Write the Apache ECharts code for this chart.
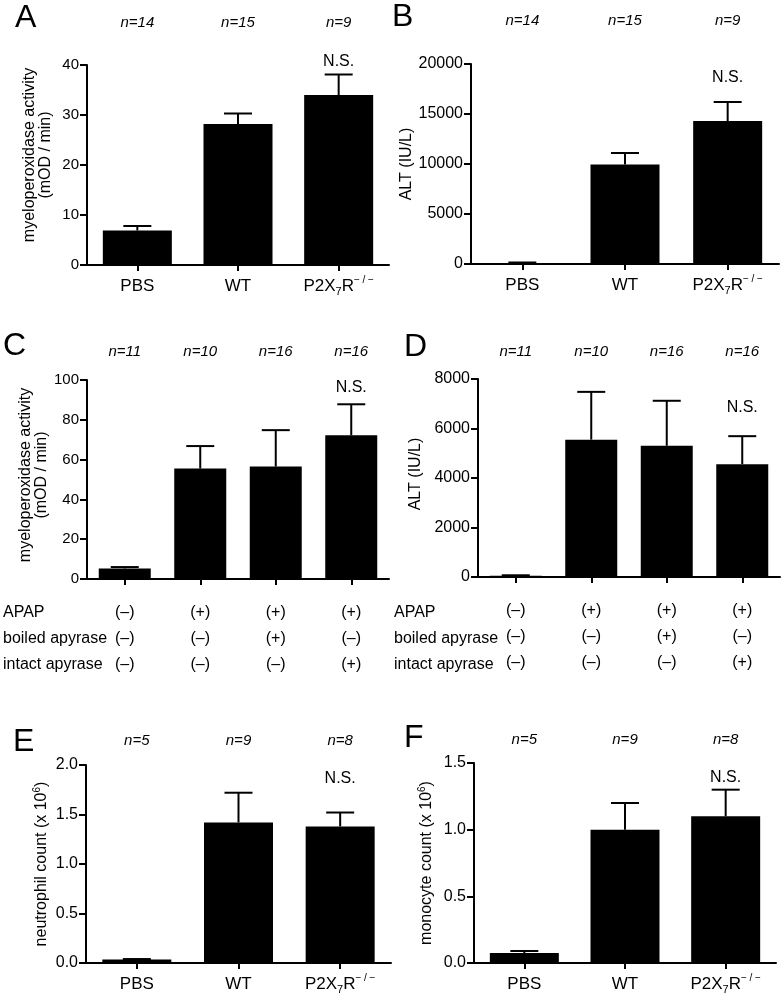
<!DOCTYPE html>
<html><head><meta charset="utf-8">
<script src="https://cdn.jsdelivr.net/npm/echarts@6/dist/echarts.min.js"></script>
<style>html,body{margin:0;padding:0;background:#fff}#c{width:782px;height:997px}</style>
</head><body><div id="c"></div>
<script>
// ---------------- DATA ----------------
const groupCats = ['PBS', 'WT', 'P2X7R-/-'];
const treatCats = ['g1', 'g2', 'g3', 'g4'];

const aValues = [6.9, 28.2, 34.0];
const aErrTop = [7.8, 30.3, 38.1];
const aN = ['n=14', 'n=15', 'n=9'];
const aNS = [2, 40.6];

const bValues = [100, 9950, 14300];
const bErrTop = [150, 11100, 16200];
const bN = ['n=14', 'n=15', 'n=9'];
const bNS = [2, 18600];

const cValues = [5.3, 55.5, 56.5, 72.2];
const cErrTop = [6.0, 66.8, 74.8, 87.8];
const cN = ['n=11', 'n=10', 'n=16', 'n=16'];
const cNS = [3, 96.3];

const dValues = [50, 5550, 5300, 4560];
const dErrTop = [70, 7480, 7120, 5690];
const dN = ['n=11', 'n=10', 'n=16', 'n=16'];
const dNS = [3, 6830];

const eValues = [0.035, 1.42, 1.38];
const eErrTop = [0.04, 1.72, 1.52];
const eN = ['n=5', 'n=9', 'n=8'];
const eNS = [2, 1.86];

const fValues = [0.075, 1.0, 1.1];
const fErrTop = [0.09, 1.2, 1.3];
const fN = ['n=5', 'n=9', 'n=8'];
const fNS = [2, 1.39];

const rowNames = ['APAP', 'boiled apyrase', 'intact apyrase'];
const apapRow = ['(–)', '(+)', '(+)', '(+)'];
const boiledRow = ['(–)', '(–)', '(+)', '(–)'];
const intactRow = ['(–)', '(–)', '(–)', '(+)'];

const aTicks = {max: 40, interval: 10};
const bTicks = {max: 20000, interval: 5000};
const cTicks = {max: 100, interval: 20};
const dTicks = {max: 8000, interval: 2000};
const eTicks = {max: 2.0, interval: 0.5};
const fTicks = {max: 1.5, interval: 0.5};

const nsText = 'N.S.';
const panelLetters = ['A', 'B', 'C', 'D', 'E', 'F'];

// ---------------- LAYOUT / STYLE ----------------
const FONT = '"Liberation Sans", Arial, Helvetica, sans-serif';
const panels = [
  {cats: groupCats, vals: aValues, err: aErrTop, n: aN, ns: aNS, ticks: aTicks, dec: 0, tickFs: 15,
   grid: {left: 87, top: 65, width: 302, height: 200}, barW: 69, nMargin: 35,
   name: 'myeloperoxidase activity\n(mOD / min)', nameGap: 33, namePad: 20, table: false},
  {cats: groupCats, vals: bValues, err: bErrTop, n: bN, ns: bNS, ticks: bTicks, dec: 0, tickFs: 16,
   grid: {left: 471, top: 64, width: 308, height: 200}, barW: 69, nMargin: 36,
   name: 'ALT (IU/L)', nameGap: 55, namePad: 0, table: false},
  {cats: treatCats, vals: cValues, err: cErrTop, n: cN, ns: cNS, ticks: cTicks, dec: 0, tickFs: 15,
   grid: {left: 87, top: 380, width: 302, height: 199}, barW: 52, nMargin: 21,
   name: 'myeloperoxidase activity\n(mOD / min)', nameGap: 33, namePad: 9, table: true, rowX: 3},
  {cats: treatCats, vals: dValues, err: dErrTop, n: dN, ns: dNS, ticks: dTicks, dec: 0, tickFs: 16,
   grid: {left: 478, top: 379, width: 302, height: 198}, barW: 52, nMargin: 20,
   name: 'ALT (IU/L)', nameGap: 54, namePad: 8, table: true, rowX: 394},
  {cats: groupCats, vals: eValues, err: eErrTop, n: eN, ns: eNS, ticks: eTicks, dec: 1, tickFs: 16,
   grid: {left: 86, top: 765, width: 305, height: 198}, barW: 69, nMargin: 17,
   name: '{t|neutrophil count (x 10}{s|6}{t|)}', nameGap: 31, namePad: 0, table: false},
  {cats: groupCats, vals: fValues, err: fErrTop, n: fN, ns: fNS, ticks: fTicks, dec: 1, tickFs: 16,
   grid: {left: 474, top: 763, width: 302, height: 200}, barW: 69, nMargin: 16,
   name: '{t|monocyte count (x 10}{s|6}{t|)}', nameGap: 37, namePad: 0, table: false}
];
const letterPos = [[15, 2], [392, 1], [3, 330], [404, 331], [13, 726], [404, 722]];

const catRich = {
  a: {fontSize: 17, fontFamily: FONT, color: '#000', lineHeight: 22, verticalAlign: 'middle'},
  sub: {fontSize: 11, fontFamily: FONT, color: '#000', lineHeight: 8, verticalAlign: 'bottom'},
  sup: {fontSize: 10, fontFamily: FONT, color: '#000', lineHeight: 12, verticalAlign: 'top'}
};
function catFormatter(v) {
  if (v === 'P2X7R-/-') return '{a|P2X}{sub|7}{a|R}{sup|− / −}';
  return '{a|' + v + '}';
}

function errRender(params, api) {
  const x = api.value(0), v = api.value(1), top = api.value(2);
  const p1 = api.coord([x, v]), p2 = api.coord([x, top]);
  const hw = 14;
  return {type: 'group', children: [
    {type: 'line', shape: {x1: p1[0], y1: p1[1], x2: p2[0], y2: p2[1]}, style: {stroke: '#000', lineWidth: 2}},
    {type: 'line', shape: {x1: p2[0] - hw, y1: p2[1], x2: p2[0] + hw, y2: p2[1]}, style: {stroke: '#000', lineWidth: 2}}
  ]};
}
function nsRender(params, api) {
  const p = api.coord([api.value(0), api.value(1)]);
  return {type: 'text', x: p[0], y: p[1],
    style: {text: nsText, fill: '#000', font: '16px ' + FONT, align: 'center', verticalAlign: 'middle'}};
}

const grid = [], xAxis = [], yAxis = [], series = [], graphic = [];
panels.forEach((p, i) => {
  grid.push(Object.assign({containLabel: false}, p.grid));
  const mainX = xAxis.length;
  xAxis.push({
    type: 'category', gridIndex: i, data: p.cats, position: 'bottom',
    axisLine: {show: true, lineStyle: {color: '#000', width: 2}},
    axisTick: {show: true, alignWithLabel: true, interval: 0, length: 6, lineStyle: {color: '#000', width: 2}},
    axisLabel: p.table ? {show: false} : {show: true, interval: 0, margin: 10, formatter: catFormatter, rich: catRich},
    splitLine: {show: false}
  });
  xAxis.push({
    type: 'category', gridIndex: i, data: p.n, position: 'top',
    axisLine: {show: false}, axisTick: {show: false},
    axisLabel: {show: true, interval: 0, margin: p.nMargin, fontSize: 15, fontStyle: 'italic', fontFamily: FONT, color: '#000'}
  });
  if (p.table) {
    [apapRow, boiledRow, intactRow].forEach((row, r) => {
      xAxis.push({
        type: 'category', gridIndex: i, data: row, position: 'bottom',
        axisLine: {show: false}, axisTick: {show: false},
        axisLabel: {show: true, margin: 26 + r * 26, fontSize: 16, fontFamily: FONT, color: '#000', interval: 0}
      });
    });
    rowNames.forEach((nm, r) => {
      graphic.push({type: 'text', left: p.rowX, top: 605 + r * 26,
        style: {text: nm, font: '16px ' + FONT, fill: '#000'}});
    });
  }
  yAxis.push({
    type: 'value', gridIndex: i, min: 0, max: p.ticks.max, interval: p.ticks.interval,
    axisLine: {show: true, lineStyle: {color: '#000', width: 2}},
    axisTick: {show: true, length: 7, lineStyle: {color: '#000', width: 2}},
    axisLabel: {show: true, margin: 8, fontSize: p.tickFs, fontFamily: FONT, color: '#000',
      formatter: v => v.toFixed(p.dec)},
    splitLine: {show: false},
    name: p.name, nameLocation: 'middle', nameGap: p.nameGap, nameRotate: 90,
    nameTextStyle: {fontSize: 16, fontFamily: FONT, color: '#000', lineHeight: 16,
      padding: [0, 0, 0, p.namePad],
      rich: {t: {fontSize: 16, fontFamily: FONT, color: '#000', lineHeight: 20, verticalAlign: 'middle'},
             s: {fontSize: 10, fontFamily: FONT, color: '#000', lineHeight: 12, verticalAlign: 'top'}}}
  });
  series.push({
    type: 'bar', xAxisIndex: mainX, yAxisIndex: i, barWidth: p.barW,
    data: p.vals, itemStyle: {color: '#000'}, silent: true, animation: false
  });
  series.push({
    type: 'custom', xAxisIndex: mainX, yAxisIndex: i, renderItem: errRender, z: 3,
    data: p.vals.map((v, k) => [k, v, p.err[k]]), animation: false, silent: true
  });
  series.push({
    type: 'custom', xAxisIndex: mainX, yAxisIndex: i, renderItem: nsRender, z: 4, clip: false,
    data: [p.ns], animation: false, silent: true
  });
});
panelLetters.forEach((L, i) => {
  graphic.push({type: 'text', left: letterPos[i][0], top: letterPos[i][1],
    style: {text: L, font: '32px ' + FONT, fill: '#000'}});
});

const chart = echarts.init(document.getElementById('c'), null, {renderer: 'canvas'});
chart.setOption({animation: false, grid, xAxis, yAxis, series, graphic});
</script></body></html>
